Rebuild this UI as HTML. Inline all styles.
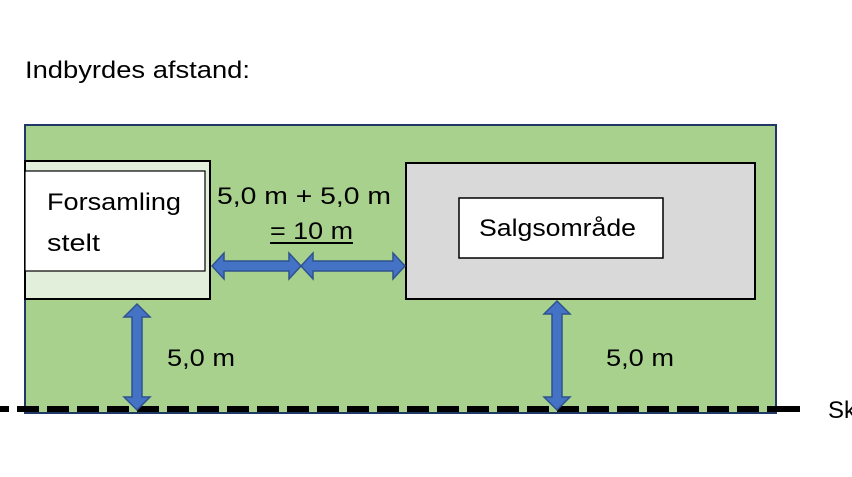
<!DOCTYPE html>
<html><head><meta charset="utf-8"><style>
html,body{margin:0;padding:0;background:#fff;width:852px;height:477px;overflow:hidden}
svg{display:block}
text{font-family:"Liberation Sans",sans-serif;fill:#000}
</style></head><body>
<svg width="852" height="477" viewBox="0 0 852 477">
<text x="25" y="78" font-size="24" textLength="225" lengthAdjust="spacingAndGlyphs">Indbyrdes afstand:</text>
<rect x="25" y="125" width="751" height="288" fill="#a9d18e" stroke="#203864" stroke-width="2"/>
<rect x="25" y="161" width="185" height="138" fill="#e2efda" stroke="#000" stroke-width="2"/>
<rect x="25" y="171" width="180" height="100" fill="#fff" stroke="#000" stroke-width="1.2"/>
<text x="47" y="210" font-size="24" textLength="134" lengthAdjust="spacingAndGlyphs">Forsamling</text>
<text x="47" y="251" font-size="24" textLength="53" lengthAdjust="spacingAndGlyphs">stelt</text>
<rect x="406" y="163" width="349" height="136" fill="#d9d9d9" stroke="#000" stroke-width="2"/>
<rect x="459" y="198" width="204" height="60" fill="#fff" stroke="#000" stroke-width="1.5"/>
<text x="479" y="236" font-size="24" textLength="157" lengthAdjust="spacingAndGlyphs">Salgsområde</text>
<text x="217" y="204" font-size="24" textLength="174" lengthAdjust="spacingAndGlyphs">5,0 m +  5,0 m</text>
<text x="270" y="239" font-size="24" textLength="83" lengthAdjust="spacingAndGlyphs">= 10 m</text>
<rect x="270" y="242" width="83" height="2" fill="#000"/>
<text x="167" y="366" font-size="24" textLength="68" lengthAdjust="spacingAndGlyphs">5,0 m</text>
<text x="606" y="366" font-size="24" textLength="68" lengthAdjust="spacingAndGlyphs">5,0 m</text>
<text x="828" y="418" font-size="24">Sk</text>
<line x1="0" y1="409" x2="800" y2="409" stroke="#000" stroke-width="6" stroke-dasharray="22 8" stroke-dashoffset="13"/>
<rect x="777" y="406" width="23" height="6" fill="#000"/>
<g fill="#4472c4" stroke="#2f528f" stroke-width="1.5">
<polygon points="212,266 224,253 224,261 289,261 289,253 301,266 289,279 289,271 224,271 224,279"/>
<polygon points="301,266 313,253 313,261 393,261 393,253 405,266 393,279 393,271 313,271 313,279"/>
<polygon points="137,304 150,317 142,317 142,397 150,397 137,410 124,397 132,397 132,317 124,317"/>
<polygon points="557,301 570,314 562,314 562,397 570,397 557,410 544,397 552,397 552,314 544,314"/>
</g>
</svg>
</body></html>
